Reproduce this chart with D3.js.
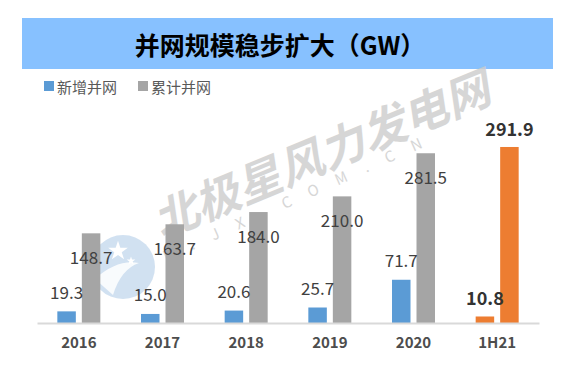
<!DOCTYPE html>
<html>
<head>
<meta charset="utf-8">
<script src="https://cdn.jsdelivr.net/npm/d3@7"></script>
<style>
  body { margin: 0; background: #fff; }
  text { font-family: "Noto Sans CJK SC", "Noto Sans", sans-serif; }
</style>
</head>
<body>
<div id="chart"></div>
<script>
const categories = ["2016", "2017", "2018", "2019", "2020", "1H21"];
const newAdded = [19.3, 15.0, 20.6, 25.7, 71.7, 10.8];
const cumulative = [148.7, 163.7, 184.0, 210.0, 281.5, 291.9];
const seriesNames = ["新增并网", "累计并网"];

const width = 579, height = 375;
const svg = d3.select("#chart").append("svg")
    .attr("width", width)
    .attr("height", height);

// title band
svg.append("rect")
    .attr("x", 22).attr("y", 18)
    .attr("width", 531).attr("height", 51)
    .attr("fill", "#87c1ff");
svg.append("text")
    .attr("x", 280).attr("y", 44)
    .attr("text-anchor", "middle")
    .attr("dominant-baseline", "central")
    .attr("font-size", 25)
    .attr("font-weight", "bold")
    .attr("fill", "#000")
    .text("并网规模稳步扩大（GW）");

// watermark (drawn under the bars)
const wm = svg.append("g").attr("pointer-events", "none");
const logo = wm.append("g").attr("transform", "translate(123,267)");
logo.append("circle").attr("r", 32).attr("fill", "#c6daed").attr("opacity", 0.8);
logo.append("path")
    .attr("d", "M-28,12 Q-6,-8 16,-4 Q-2,2 -10,28 Z")
    .attr("fill", "#fff").attr("opacity", 0.85);
logo.append("path")
    .attr("d", d3.symbol(d3.symbolStar, 120)())
    .attr("transform", "translate(-5,-16)")
    .attr("fill", "#fff");
logo.append("path")
    .attr("d", d3.symbol(d3.symbolStar, 24)())
    .attr("transform", "translate(8,-6)")
    .attr("fill", "#fff");
wm.append("text")
    .attr("transform", "translate(320,152) rotate(-22.5)")
    .attr("text-anchor", "middle")
    .attr("dominant-baseline", "central")
    .attr("font-size", 45)
    .attr("font-weight", "bold")
    .attr("font-style", "italic")
    .attr("fill", "#cdcdcd")
    .attr("opacity", 0.8)
    .text("北极星风力发电网");
wm.append("text")
    .attr("transform", "translate(166,262) rotate(-24)")
    .attr("font-size", 15)
    .attr("letter-spacing", 19)
    .attr("fill", "#d0d0d0")
    .attr("opacity", 0.85)
    .text("B.JX.COM.CN");

// scales
const baseY = 323;
const x0 = d3.scaleBand().domain(categories).range([37, 539]);
const x1 = d3.scaleBand().domain([0, 1]).range([-21.5, 21.5]).paddingInner(0.245);
const y = d3.scaleLinear().domain([0, 350]).range([baseY, baseY - 350 * 0.603]);

const colors = ["#5b9bd5", "#a5a5a5"];
const highlight = "#ed7d31";
const rows = categories.map((c, i) => ({ cat: c, vals: [newAdded[i], cumulative[i]], last: i === categories.length - 1 }));

const groups = svg.selectAll(".grp").data(rows).join("g")
    .attr("class", "grp")
    .attr("transform", d => `translate(${x0(d.cat) + x0.bandwidth() / 2},0)`);

groups.selectAll("rect").data(d => d.vals.map((v, k) => ({ v, k, last: d.last }))).join("rect")
    .attr("x", d => x1(d.k))
    .attr("width", x1.bandwidth())
    .attr("y", d => y(d.v))
    .attr("height", d => baseY - y(d.v))
    .attr("fill", d => d.last ? highlight : colors[d.k]);

// value labels
groups.selectAll("text.val").data(d => d.vals.map((v, k) => ({ v, k, last: d.last }))).join("text")
    .attr("class", "val")
    .attr("x", d => x1(d.k) + x1.bandwidth() / 2)
    .attr("y", d => {
        if (d.last) return y(d.v) - 19;
        return d.k === 0 ? y(d.v) - 20 : y(d.v) + 23;
    })
    .attr("text-anchor", "middle")
    .attr("dominant-baseline", "central")
    .attr("font-size", d => d.last ? 18 : 17)
    .attr("font-weight", d => d.last ? "bold" : "normal")
    .attr("fill", d => d.last ? "#333" : "#404040")
    .text(d => d3.format(".1f")(d.v));

// axis
const xAxis = svg.append("g")
    .attr("transform", `translate(0,${baseY})`)
    .call(d3.axisBottom(x0).tickSize(0).tickPadding(14));
xAxis.select(".domain").attr("stroke", "#d9d9d9").attr("stroke-width", 2);
xAxis.selectAll("text")
    .attr("font-size", 15)
    .attr("font-weight", "bold")
    .attr("fill", "#4d4d4d")
    .style("font-family", "'Noto Sans CJK SC', sans-serif");

// legend
const legend = svg.append("g").attr("transform", "translate(44,86)");
const items = legend.selectAll("g").data(seriesNames).join("g")
    .attr("transform", (d, i) => `translate(${i * 94},0)`);
items.append("rect")
    .attr("x", 0).attr("y", -5)
    .attr("width", 10).attr("height", 10)
    .attr("fill", (d, i) => colors[i]);
items.append("text")
    .attr("x", 13).attr("y", 0)
    .attr("dominant-baseline", "central")
    .attr("font-size", 15)
    .attr("fill", "#595959")
    .text(d => d);
</script>
</body>
</html>
